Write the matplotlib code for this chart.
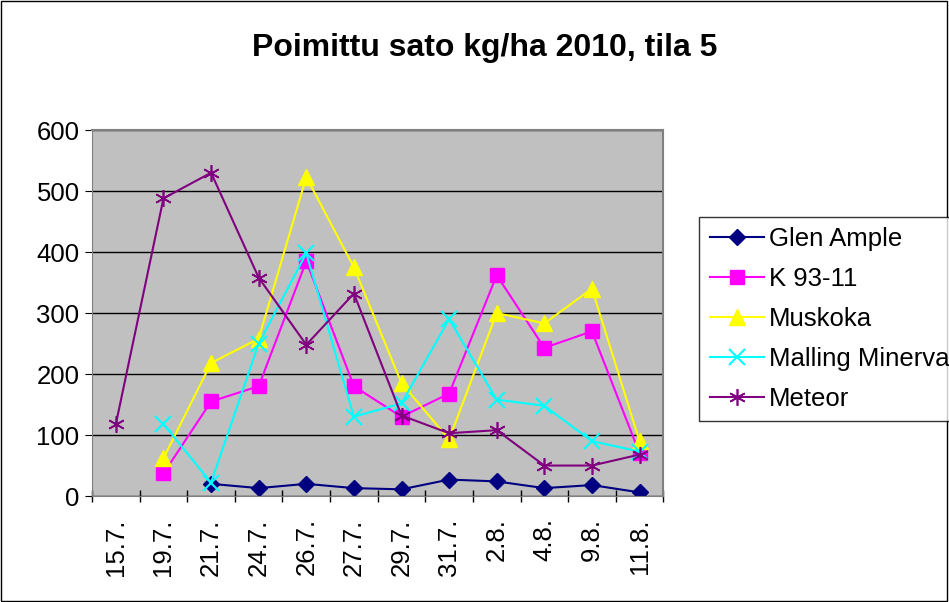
import numpy as np
import matplotlib
matplotlib.use('Agg')
import matplotlib.pyplot as plt
from matplotlib.patches import Rectangle

plt.rcParams['font.family'] = ['Liberation Sans', 'DejaVu Sans']

paivat = ['15.7.', '19.7.', '21.7.', '24.7.', '26.7.', '27.7.', '29.7.',
          '31.7.', '2.8.', '4.8.', '9.8.', '11.8.']
nan = np.nan
glen_ample = [nan, nan, 20, 13, 20, 13, 11, 27, 24, 13, 18, 6]
k93_11 = [nan, 37, 155, 180, 385, 180, 130, 168, 362, 243, 270, 70]
muskoka = [nan, 62, 218, 258, 523, 375, 185, 93, 300, 283, 340, 90]
malling_minerva = [nan, 118, 22, 250, 398, 130, 152, 290, 158, 148, 90, 73]
meteor = [118, 488, 530, 358, 248, 332, 132, 103, 108, 50, 50, 68]

fig = plt.figure(figsize=(9.49, 6.02), dpi=100)
fig.patches.append(Rectangle((0.001, 0.001), 0.997, 0.997, transform=fig.transFigure,
                             fill=False, edgecolor='black', linewidth=1))
ax = fig.add_axes([0.097, 0.176, 0.602, 0.608])
ax.set_facecolor('#C0C0C0')

x = np.arange(len(paivat))
ax.plot(x, glen_ample, color='#000080', marker='D', markersize=8, lw=1.5, label='Glen Ample')
ax.plot(x, k93_11, color='#FF00FF', marker='s', markersize=10, lw=1.5, label='K 93-11')
ax.plot(x, muskoka, color='#FFFF00', marker='^', markersize=11, lw=1.5, label='Muskoka')
ax.plot(x, malling_minerva, color='#00FFFF', marker='x', markersize=11, mew=1.5, lw=1.5,
        label='Malling Minerva')
ax.plot(x, meteor, color='#800080', marker=(6, 2, 0), markersize=12, mew=1.2, lw=1.5,
        label='Meteor')

ax.set_xlim(-0.5, len(paivat) - 0.5)
ax.set_ylim(0, 600)
ax.set_yticks(range(0, 601, 100))
ax.yaxis.grid(True, color='black', lw=1)
ax.set_axisbelow(True)
ax.set_xticks(x)
ax.set_xticklabels(paivat, rotation=90, fontsize=18.5)
ax.tick_params(axis='x', length=0, pad=16)
ax.set_xticks(np.arange(-0.5, len(paivat)), minor=True)
ax.tick_params(axis='x', which='minor', length=8, direction='inout', width=1)
ax.tick_params(axis='y', labelsize=18.5, length=5, direction='out', pad=4)
for s in ['top', 'right']:
    ax.spines[s].set_color('#808080')
    ax.spines[s].set_linewidth(1.5)
for s in ['left', 'bottom']:
    ax.spines[s].set_color('#808080')

fig.text(0.511, 0.92, 'Poimittu sato kg/ha 2010, tila 5', ha='center', va='center',
         fontsize=23, fontweight='bold')

leg = fig.legend(loc='upper left', bbox_to_anchor=(0.737, 0.64), fontsize=18.5,
                 frameon=True, fancybox=False, edgecolor='black', handlelength=2.1,
                 borderpad=0.4, labelspacing=0.62, handletextpad=0.2, borderaxespad=0)
leg.get_frame().set_linewidth(1)

fig.savefig('out.png', dpi=100)
